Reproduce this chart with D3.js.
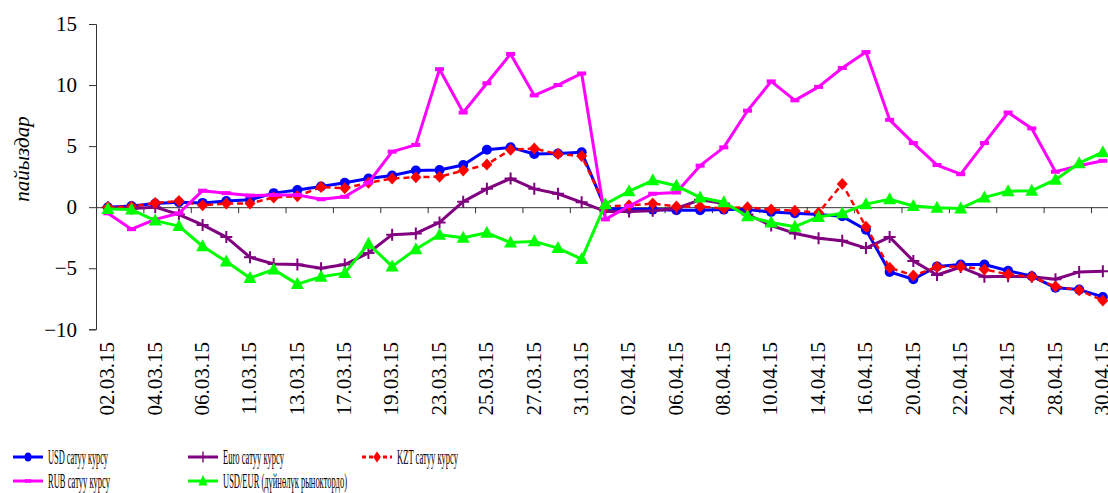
<html>
	<script src='https://d3js.org/d3.v7.min.js'></script>
	<style>
		body { margin: 0; background: #fff; }
		text { font-family: 'Liberation Serif', 'Times New Roman', serif; fill: #000; }
	</style>
	<body onload='init()'>
		<svg width=1108 height=493></svg>
		<script>
			// categories (trading days) and every-other-day labels
			var dates = ["02.03.15","03.03.15","04.03.15","05.03.15","06.03.15","10.03.15","11.03.15","12.03.15","13.03.15",
				"16.03.15","17.03.15","18.03.15","19.03.15","20.03.15","23.03.15","24.03.15","25.03.15","26.03.15","27.03.15",
				"30.03.15","31.03.15","01.04.15","02.04.15","03.04.15","06.04.15","07.04.15","08.04.15","09.04.15","10.04.15",
				"13.04.15","14.04.15","15.04.15","16.04.15","17.04.15","20.04.15","21.04.15","22.04.15","23.04.15","24.04.15",
				"27.04.15","28.04.15","29.04.15","30.04.15"];
			var labelDates = dates.filter(function(d, i) { return i % 2 == 0; });
			var yTicks = [-10, -5, 0, 5, 10, 15];

			// series values, % change
			var usd = [0, 0.1, 0.3, 0.4, 0.35, 0.5, 0.6, 1.15, 1.4, 1.7, 2.0, 2.35, 2.6, 3.0, 3.05, 3.45, 4.7, 4.9, 4.35, 4.4, 4.5,
				-0.1, -0.15, -0.2, -0.25, -0.25, -0.2, -0.2, -0.4, -0.5, -0.6, -0.75, -1.85, -5.3, -5.9, -4.85, -4.7, -4.7, -5.2, -5.65, -6.6, -6.75, -7.35];
			var euro = [0, -0.1, 0.0, -0.6, -1.45, -2.45, -4.1, -4.65, -4.7, -5.0, -4.7, -3.75, -2.25, -2.15, -1.25, 0.45, 1.5, 2.35, 1.5, 1.1, 0.4,
				-0.35, -0.35, -0.3, -0.1, 0.6, 0.3, -0.6, -1.5, -2.15, -2.55, -2.75, -3.35, -2.45, -4.4, -5.55, -4.9, -5.7, -5.65, -5.7, -5.9, -5.3, -5.25];
			var kzt = [0, 0.05, 0.35, 0.5, 0.15, 0.3, 0.3, 0.8, 0.9, 1.65, 1.55, 2.0, 2.35, 2.45, 2.5, 3.0, 3.5, 4.7, 4.8, 4.35, 4.2,
				0.05, 0.15, 0.3, 0.05, 0.05, -0.1, 0.0, -0.2, -0.3, -0.45, 1.9, -1.6, -4.95, -5.6, -4.9, -4.85, -5.1, -5.5, -5.7, -6.5, -6.8, -7.65];
			var rub = [-0.5, -1.8, -1.0, -0.5, 1.35, 1.15, 0.95, 1.0, 1.0, 0.65, 0.85, 2.0, 4.55, 5.1, 11.3, 7.75, 10.15, 12.55, 9.15, 10.0, 10.95,
				-1.0, 0.1, 1.1, 1.2, 3.4, 4.9, 7.9, 10.3, 8.75, 9.85, 11.4, 12.7, 7.15, 5.25, 3.45, 2.7, 5.25, 7.75, 6.45, 2.9, 3.4, 3.8];
			var usdEur = [-0.15, -0.2, -1.1, -1.55, -3.2, -4.45, -5.8, -5.1, -6.3, -5.7, -5.4, -3.0, -4.85, -3.45, -2.25, -2.5, -2.1, -2.9, -2.8, -3.35, -4.25,
				0.25, 1.3, 2.2, 1.75, 0.8, 0.4, -0.75, -1.25, -1.6, -0.8, -0.5, 0.25, 0.65, 0.1, -0.05, -0.1, 0.8, 1.3, 1.35, 2.25, 3.6, 4.5];

			var series = [
				{name: "USD сатуу курсу", values: usd, color: "#0000ff", marker: "circle", dash: null, tl: 60},
				{name: "Euro сатуу курсу", values: euro, color: "#800080", marker: "plus", dash: null, tl: 61},
				{name: "KZT сатуу курсу", values: kzt, color: "#ff0000", marker: "diamond", dash: "6,4", tl: 61},
				{name: "RUB сатуу курсу", values: rub, color: "#ff00ff", marker: "dash", dash: null, tl: 62},
				{name: "USD/EUR (дүйнөлүк рыноктордо)", values: usdEur, color: "#00ff00", marker: "triangle", dash: null, tl: 124}
			];

			function drawMarker(sel, s) {
				if (s.marker == "circle") {
					sel.append("circle").attr("r", 5).attr("fill", s.color);
				} else if (s.marker == "diamond") {
					sel.append("path").attr("d", "M0,-6L5.5,0L0,6L-5.5,0Z").attr("fill", s.color);
				} else if (s.marker == "triangle") {
					sel.append("path").attr("d", "M0,-7L6.5,5L-6.5,5Z").attr("fill", s.color);
				} else if (s.marker == "plus") {
					sel.append("path").attr("d", "M-6,0H6M0,-6V6").attr("stroke", s.color).attr("stroke-width", 2);
				} else if (s.marker == "dash") {
					sel.append("rect").attr("x", -4.5).attr("y", -2).attr("width", 9).attr("height", 4).attr("fill", s.color);
				}
			}

			function init() {
				var svg = d3.select("svg");

				// scales: 43 bands, y from -10 to 15
				var x = d3.scaleBand().domain(dates).range([96, 1114.7]);
				var xIdx = d3.scaleLinear().domain([0, dates.length]).range([96, 1114.7]);
				var y = d3.scaleLinear().domain([-10, 15]).range([329.3, 24]);
				var cx = function(i) { return x(dates[i]) + x.bandwidth() / 2; };

				// y axis
				var gy = svg.append("g").attr("transform", "translate(96,0)")
					.call(d3.axisLeft(y).tickValues(yTicks).tickSize(7).tickPadding(12));
				gy.selectAll("path, line").attr("stroke", "#333");
				gy.selectAll("text").attr("font-size", 21).attr("font-family", "'Liberation Serif', serif").attr("fill", "#000");

				// x axis line and tick marks at zero
				var gx = svg.append("g").attr("transform", "translate(0," + y(0) + ")")
					.call(d3.axisBottom(xIdx).tickValues(d3.range(0, dates.length, 2)).tickSize(6).tickFormat(""));
				gx.select(".domain").attr("d", "M96,0.5H1108").attr("stroke", "#333");
				gx.selectAll("line").attr("stroke", "#333");

				// rotated date labels below the plot
				var gl = svg.append("g").attr("transform", "translate(0,342)")
					.call(d3.axisBottom(x).tickValues(labelDates).tickSize(0).tickPadding(0));
				gl.select(".domain").remove();
				gl.selectAll("text").attr("transform", "rotate(-90)").attr("text-anchor", "end")
					.attr("x", 0).attr("y", 0).attr("dy", "0.3em")
					.attr("font-size", 21).attr("font-family", "'Liberation Serif', serif").attr("fill", "#000");

				// y title
				svg.append("text").attr("transform", "translate(29,159) rotate(-90)")
					.attr("text-anchor", "middle").attr("font-size", 21).attr("font-style", "italic")
					.text("пайыздар");

				// lines and markers
				series.forEach(function(s) {
					var line = d3.line().x(function(d, i) { return cx(i); }).y(function(d) { return y(d); });
					svg.append("path").datum(s.values).attr("d", line)
						.attr("fill", "none").attr("stroke", s.color).attr("stroke-width", s.dash ? 2.5 : 3)
						.attr("stroke-dasharray", s.dash).attr("stroke-linejoin", "round");
					svg.append("g").selectAll("g").data(s.values).enter().append("g")
						.attr("transform", function(d, i) { return "translate(" + cx(i) + "," + y(d) + ")"; })
						.each(function() { drawMarker(d3.select(this), s); });
				});

				// legend, two rows
				var legPos = [[13, 457], [188, 457], [362, 457], [13, 481], [188, 481]];
				series.forEach(function(s, k) {
					var g = svg.append("g").attr("transform", "translate(" + legPos[k][0] + "," + legPos[k][1] + ")");
					g.append("line").attr("x1", 0).attr("x2", 30).attr("stroke", s.color)
						.attr("stroke-width", 3).attr("stroke-dasharray", s.dash ? "4,3" : null);
					var m = g.append("g").attr("transform", "translate(15,0) scale(0.7,0.9)");
					drawMarker(m, s);
					g.append("text").attr("x", 35).attr("y", 7).attr("font-size", 20)
						.attr("textLength", s.tl).attr("lengthAdjust", "spacingAndGlyphs").text(s.name);
				});
			}
		</script>
	</body>
</html>
